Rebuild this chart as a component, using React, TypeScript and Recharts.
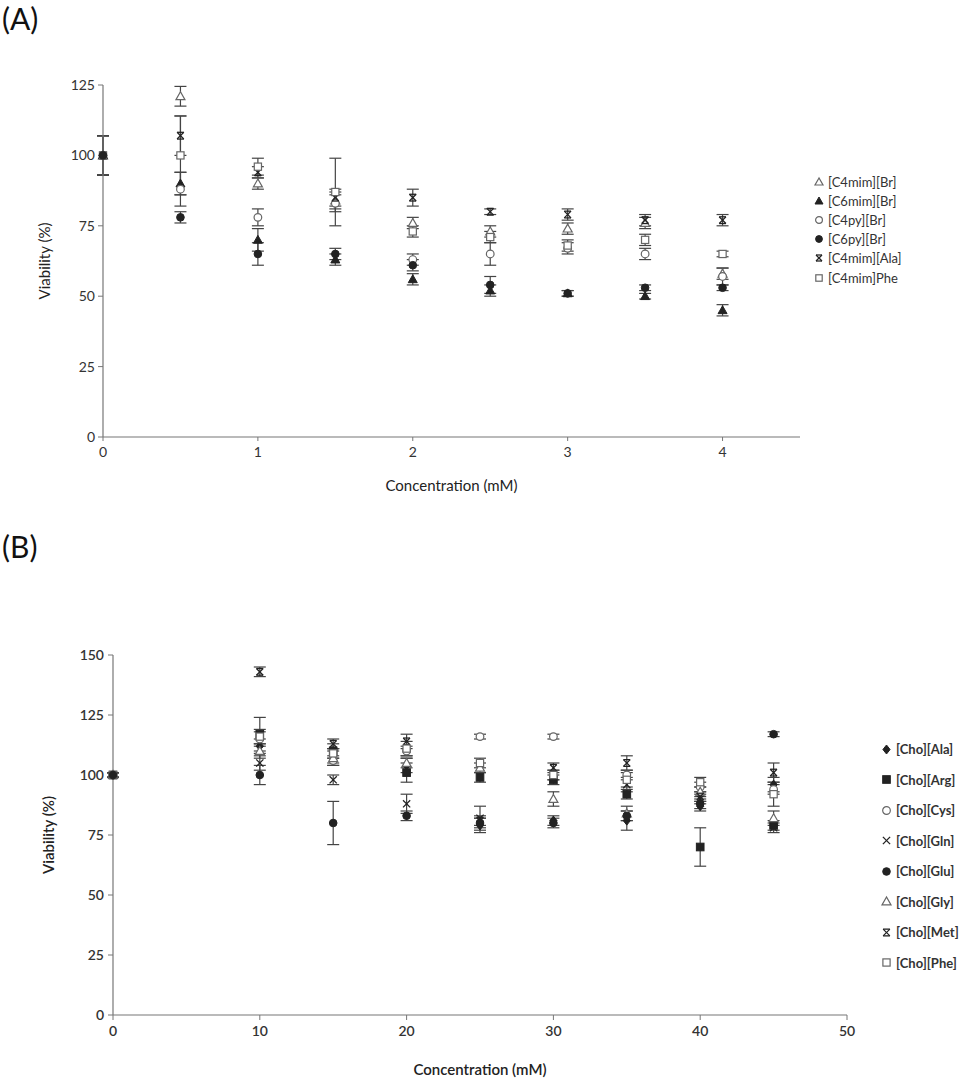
import React from 'react';
import { ScatterChart, Scatter, XAxis, YAxis, ErrorBar, Legend } from 'recharts';

// Panel A: concentration (mM)
const concA = [0, 0.5, 1, 1.5, 2, 2.5, 3, 3.5, 4];
const c4mimBr = [100, 121, 90, 84, 76, 73, 74, 76, 58];
const c4mimBrErr = [7, 3.5, 2, 3, 2, 2, 2, 2, 2];
const c6mimBr = [100, 90, 70, 63, 56, 52, 51, 50, 45];
const c6mimBrErr = [7, 4, 4, 2, 2, 2, 1, 1, 2];
const c4pyBr = [100, 88, 78, 83, 63, 65, 67, 65, 57];
const c4pyBrErr = [7, 6, 3, 3, 2, 4, 2, 2, 3];
const c6pyBr = [100, 78, 65, 65, 61, 54, 51, 53, 53];
const c6pyBrErr = [7, 2, 4, 2, 2, 3, 1, 1, 1];
const c4mimAla = [100, 107, 94, 85, 85, 80, 79, 77, 77];
const c4mimAlaErr = [7, 7, 2, 3, 3, 1, 2, 2, 2];
const c4mimPhe = [100, 100, 96, 87, 73, 71, 68, 70, 65];
const c4mimPheErr = [7, 14, 3, 12, 2, 2, 2, 2, 1];
const ticksAX = [0, 1, 2, 3, 4];
const ticksAY = [0, 25, 50, 75, 100, 125];

// Panel B: concentration (mM)
const concB = [0, 10, 15, 20, 25, 30, 35, 40, 45];
const choAla = [100, 112, 108, 104, 79, 81, 81, 87, 96];
const choAlaErr = [1, 3, 3, 3, 3, 2, 4, 2, 3];
const choArg = [100, 117, 110, 101, 99, 98, 92, 70, 79];
const choArgErr = [1, 7, 3, 4, 2, 2, 2, 8, 2];
const choCys = [100, 115, 106, 110, 116, 116, 100, 95, 94];
const choCysErr = [1, 3, 2, 2, 1, 1, 2, 2, 2];
const choGln = [100, 105, 98, 88, 82, 100, 96, 90, 78];
const choGlnErr = [1, 3, 2, 4, 5, 2, 3, 2, 2];
const choGlu = [100, 100, 80, 83, 80, 80, 83, 88, 117];
const choGluErr = [1, 4, 9, 2, 2, 2, 2, 2, 1];
const choGly = [100, 110, 107, 105, 103, 90, 84, 93, 82];
const choGlyErr = [1, 3, 3, 2, 2, 3, 3, 2, 3];
const choMet = [100, 143, 113, 114, 81, 103, 105, 91, 101];
const choMetErr = [1, 2, 2, 3, 2, 2, 3, 2, 4];
const choPhe = [100, 116, 109, 111, 105, 100, 98, 97, 92];
const choPheErr = [1, 3, 2, 3, 2, 2, 3, 2, 5];
const ticksBX = [0, 10, 20, 30, 40, 50];
const ticksBY = [0, 25, 50, 75, 100, 125, 150];

const toRows = (xs: number[], ys: number[], es: number[]) =>
  xs.map((x, i) => ({ x, y: ys[i], err: es[i] }));

const seriesA = [
  { name: '[C4mim][Br]', kind: 'triOpen', rows: toRows(concA, c4mimBr, c4mimBrErr) },
  { name: '[C6mim][Br]', kind: 'triFilled', rows: toRows(concA, c6mimBr, c6mimBrErr) },
  { name: '[C4py][Br]', kind: 'circleOpen', rows: toRows(concA, c4pyBr, c4pyBrErr) },
  { name: '[C6py][Br]', kind: 'circleFilled', rows: toRows(concA, c6pyBr, c6pyBrErr) },
  { name: '[C4mim][Ala]', kind: 'star', rows: toRows(concA, c4mimAla, c4mimAlaErr) },
  { name: '[C4mim]Phe', kind: 'squareOpen', rows: toRows(concA, c4mimPhe, c4mimPheErr) },
];

const seriesB = [
  { name: '[Cho][Ala]', kind: 'diamond', rows: toRows(concB, choAla, choAlaErr) },
  { name: '[Cho][Arg]', kind: 'squareFilled', rows: toRows(concB, choArg, choArgErr) },
  { name: '[Cho][Cys]', kind: 'circleOpen', rows: toRows(concB, choCys, choCysErr) },
  { name: '[Cho][Gln]', kind: 'cross', rows: toRows(concB, choGln, choGlnErr) },
  { name: '[Cho][Glu]', kind: 'circleFilled', rows: toRows(concB, choGlu, choGluErr) },
  { name: '[Cho][Gly]', kind: 'triOpen', rows: toRows(concB, choGly, choGlyErr) },
  { name: '[Cho][Met]', kind: 'star', rows: toRows(concB, choMet, choMetErr) },
  { name: '[Cho][Phe]', kind: 'squareOpen', rows: toRows(concB, choPhe, choPheErr) },
];

// solid circles sit on top of the stack at 0 mM in the original
const drawOrder = (list: any[]) => [
  ...list.filter((s) => s.kind !== 'circleFilled'),
  ...list.filter((s) => s.kind === 'circleFilled'),
];

const FONT = 'Lato, "Open Sans", sans-serif';
const INK = '#222';
const GRAY = '#666';

function Marker({ kind, cx, cy, r }: { kind: string; cx: number; cy: number; r: number }) {
  const open = { fill: '#fff', stroke: GRAY, strokeWidth: 1.2 };
  const solid = { fill: INK, stroke: INK, strokeWidth: 1 };
  switch (kind) {
    case 'triOpen':
    case 'triFilled': {
      const pts = `${cx},${cy - r} ${cx - r},${cy + r * 0.75} ${cx + r},${cy + r * 0.75}`;
      return <polygon points={pts} {...(kind === 'triOpen' ? open : solid)} />;
    }
    case 'circleOpen':
      return <circle cx={cx} cy={cy} r={r * 0.85} {...open} />;
    case 'circleFilled':
      return <circle cx={cx} cy={cy} r={r * 0.85} {...solid} />;
    case 'squareOpen':
      return <rect x={cx - r * 0.8} y={cy - r * 0.8} width={r * 1.6} height={r * 1.6} {...open} />;
    case 'squareFilled':
      return <rect x={cx - r * 0.85} y={cy - r * 0.85} width={r * 1.7} height={r * 1.7} {...solid} />;
    case 'diamond': {
      const pts = `${cx},${cy - r} ${cx + r * 0.8},${cy} ${cx},${cy + r} ${cx - r * 0.8},${cy}`;
      return <polygon points={pts} {...solid} />;
    }
    case 'cross':
      return (
        <g stroke={INK} strokeWidth={1.3}>
          <line x1={cx - r * 0.8} y1={cy - r * 0.8} x2={cx + r * 0.8} y2={cy + r * 0.8} />
          <line x1={cx - r * 0.8} y1={cy + r * 0.8} x2={cx + r * 0.8} y2={cy - r * 0.8} />
        </g>
      );
    case 'star':
    default:
      return (
        <g stroke={INK} strokeWidth={1.3}>
          <line x1={cx - r * 0.75} y1={cy - r * 0.75} x2={cx + r * 0.75} y2={cy + r * 0.75} />
          <line x1={cx - r * 0.75} y1={cy + r * 0.75} x2={cx + r * 0.75} y2={cy - r * 0.75} />
          <line x1={cx - r * 0.75} y1={cy - r * 0.75} x2={cx + r * 0.75} y2={cy - r * 0.75} />
          <line x1={cx - r * 0.75} y1={cy + r * 0.75} x2={cx + r * 0.75} y2={cy + r * 0.75} />
        </g>
      );
  }
}

const shapeOf = (kind: string, r: number) => (p: any) =>
  <Marker kind={kind} cx={p.cx} cy={p.cy} r={r} />;

function LegendBox({ items, rowH, fontSize, weight, r }: any) {
  return (
    <div style={{ fontFamily: FONT, fontSize, fontWeight: weight, color: '#333' }}>
      {items.map((s: any) => (
        <div key={s.name} style={{ height: rowH, display: 'flex', alignItems: 'center', whiteSpace: 'nowrap' }}>
          <svg width={r * 2 + 4} height={r * 2 + 4} style={{ marginRight: 3 }}>
            <Marker kind={s.kind} cx={r + 2} cy={r + 2} r={r} />
          </svg>
          <span>{s.name}</span>
        </div>
      ))}
    </div>
  );
}

const axisLine = { stroke: '#777', strokeWidth: 1.2 };

export default function App() {
  return (
    <div style={{ position: 'absolute', left: 0, top: 0, width: 980, height: 1086, background: '#fff', fontFamily: FONT }}>
      <div style={{ position: 'absolute', left: 2, top: 0, fontSize: 30, color: '#111' }}>(A)</div>
      <div style={{ position: 'absolute', left: 2, top: 528, fontSize: 30, color: '#111' }}>(B)</div>

      <div style={{ position: 'absolute', left: 0, top: 0 }}>
        <ScatterChart width={980} height={500} margin={{ top: 85, right: 180, bottom: 3, left: 43 }}>
          <XAxis
            type="number"
            dataKey="x"
            domain={[0, 4.5]}
            ticks={ticksAX}
            height={60}
            axisLine={axisLine}
            tickLine={{ stroke: '#777' }}
            tickSize={4}
            tickMargin={6}
            tick={{ fontSize: 14, fill: '#333', fontFamily: FONT }}
            label={{ value: 'Concentration (mM)', position: 'insideBottom', offset: 6, fontSize: 15, fill: '#222', fontFamily: FONT }}
          />
          <YAxis
            type="number"
            dataKey="y"
            domain={[0, 125]}
            ticks={ticksAY}
            width={60}
            axisLine={axisLine}
            tickLine={{ stroke: '#777' }}
            tickSize={5}
            tickMargin={3}
            tick={{ fontSize: 14, fill: '#333', fontFamily: FONT }}
            label={{ value: 'Viability (%)', angle: -90, position: 'insideLeft', offset: 2, fontSize: 15, fill: '#222', fontFamily: FONT, style: { textAnchor: 'middle' } }}
          />
          <Legend
            layout="vertical"
            verticalAlign="middle"
            align="center"
            wrapperStyle={{ left: 813, top: 172, width: 150 }}
            content={() => <LegendBox items={seriesA} rowH={19.2} fontSize={13} weight={400} r={4} />}
          />
          {drawOrder(seriesA).map((s) => (
            <Scatter key={s.name} name={s.name} data={s.rows} shape={shapeOf(s.kind, 4.5)} isAnimationActive={false}>
              <ErrorBar dataKey="err" direction="y" width={6} stroke="#444" strokeWidth={1.2} isAnimationActive={false} />
            </Scatter>
          ))}
        </ScatterChart>
      </div>

      <div style={{ position: 'absolute', left: 0, top: 540 }}>
        <ScatterChart width={980} height={546} margin={{ top: 115, right: 133, bottom: 7, left: 53 }}>
          <XAxis
            type="number"
            dataKey="x"
            domain={[0, 50]}
            ticks={ticksBX}
            height={64}
            axisLine={axisLine}
            tickLine={{ stroke: '#777' }}
            tickSize={5}
            tickMargin={6}
            tick={{ fontSize: 14, fill: '#333', fontFamily: FONT, fontWeight: 600 }}
            label={{ value: 'Concentration (mM)', position: 'insideBottom', offset: 4, fontSize: 15, fill: '#222', fontFamily: FONT, fontWeight: 600 }}
          />
          <YAxis
            type="number"
            dataKey="y"
            domain={[0, 150]}
            ticks={ticksBY}
            width={60}
            axisLine={axisLine}
            tickLine={{ stroke: '#777' }}
            tickSize={5}
            tickMargin={4}
            tick={{ fontSize: 14, fill: '#333', fontFamily: FONT, fontWeight: 600 }}
            label={{ value: 'Viability  (%)', angle: -90, position: 'insideLeft', offset: -4, fontSize: 15, fill: '#222', fontFamily: FONT, fontWeight: 600, style: { textAnchor: 'middle' } }}
          />
          <Legend
            layout="vertical"
            verticalAlign="middle"
            align="center"
            wrapperStyle={{ left: 880, top: 194, width: 100 }}
            content={() => <LegendBox items={seriesB} rowH={30.5} fontSize={13} weight={700} r={4.5} />}
          />
          {drawOrder(seriesB).map((s) => (
            <Scatter key={s.name} name={s.name} data={s.rows} shape={shapeOf(s.kind, 4.5)} isAnimationActive={false}>
              <ErrorBar dataKey="err" direction="y" width={6} stroke="#444" strokeWidth={1.2} isAnimationActive={false} />
            </Scatter>
          ))}
        </ScatterChart>
      </div>
    </div>
  );
}
